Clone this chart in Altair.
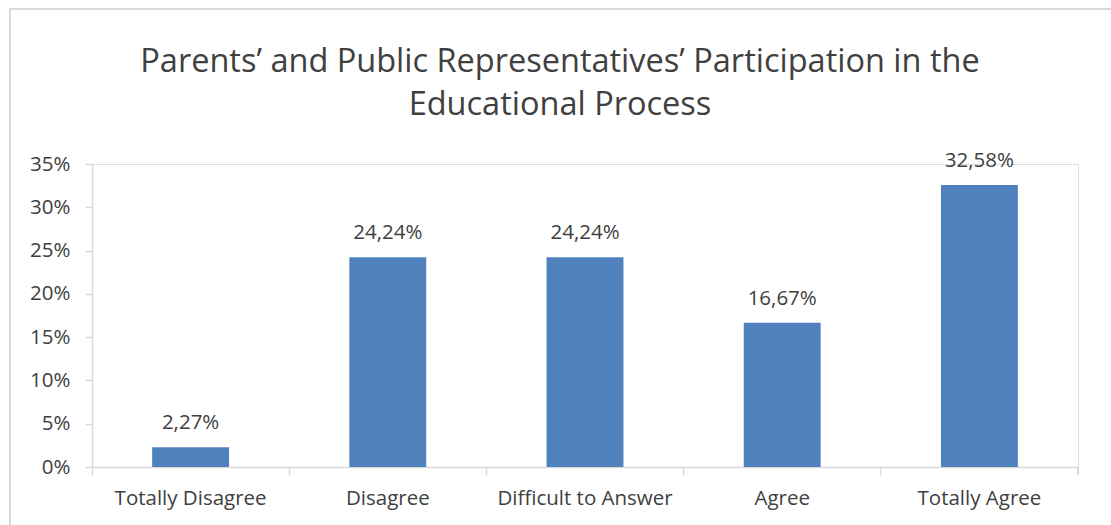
import altair as alt
import pandas as pd

categories = ["Totally Disagree", "Disagree", "Difficult to Answer", "Agree", "Totally Agree"]
values = [2.27, 24.24, 24.24, 16.67, 32.58]
value_labels = ["2,27%", "24,24%", "24,24%", "16,67%", "32,58%"]
y_ticks = [0, 5, 10, 15, 20, 25, 30, 35]
title_lines = ["Parents’ and Public Representatives’ Participation in the", "Educational Process"]

df = pd.DataFrame({"cat": categories, "val": values, "lbl": value_labels})

W = 986
H = 303
FONT = "Open Sans"
TXT = "#404040"
AX = "#D9D9D9"
FS = 20.5

x_enc = alt.X(
    "cat:N",
    sort=categories,
    scale=alt.Scale(paddingInner=0, paddingOuter=0),
    axis=alt.Axis(
        title=None,
        bandPosition=0,
        labelAngle=0,
        labelAlign="center",
        labelFont=FONT,
        labelFontSize=FS,
        labelColor=TXT,
        labelPadding=13,
        domainColor=AX,
        domainWidth=1.5,
        tickColor=AX,
        tickWidth=1.5,
        tickSize=8,
        grid=False,
    ),
)

y_enc = alt.Y(
    "val:Q",
    scale=alt.Scale(domain=[0, 35], nice=False),
    axis=alt.Axis(
        title=None,
        values=y_ticks,
        labelExpr="datum.value + '%'",
        labelFont=FONT,
        labelFontSize=FS,
        labelColor=TXT,
        labelPadding=15,
        domainColor=AX,
        domainWidth=1.5,
        tickColor=AX,
        tickWidth=1.5,
        tickSize=7,
        grid=False,
    ),
)

bars = alt.Chart(df).mark_bar(color="#4F81BD", width=alt.RelativeBandSize(0.39)).encode(x=x_enc, y=y_enc)

labels = alt.Chart(df).mark_text(
    font=FONT, fontSize=FS, color=TXT, dy=-14, baseline="bottom"
).encode(x=alt.X("cat:N", sort=categories), y="val:Q", text="lbl:N")

end_tick = alt.Chart(df).mark_rule(color=AX, strokeWidth=1.5).encode(
    x=alt.value(W), y=alt.value(H), y2=alt.value(H + 8)
)

frame = alt.Chart(df).mark_rect(fill=None, stroke=AX, strokeWidth=1.5).encode(
    x=alt.value(-82), x2=alt.value(W + 60), y=alt.value(-155), y2=alt.value(H + 80)
)

chart = alt.layer(frame, bars, labels, end_tick).properties(
    width=W,
    height=H,
    autosize=alt.AutoSizeParams(type="none"),
    padding={"left": 92, "top": 164, "right": 33, "bottom": 58},
    title=alt.TitleParams(
        text=title_lines,
        font=FONT,
        fontSize=32.5,
        fontWeight="normal",
        color=TXT,
        anchor="middle",
        dx=-25,
        dy=113,
        offset=0,
        lineHeight=43,
    ),
).configure_view(stroke=None).configure(background="white")

chart.save("out.html", embed_options={"renderer": "svg", "actions": False})
